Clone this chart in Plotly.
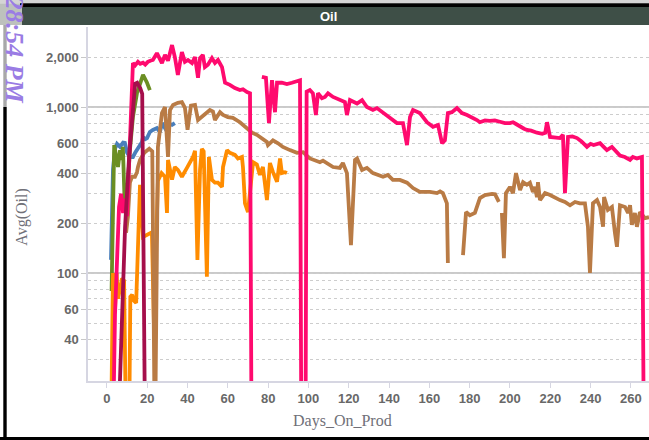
import plotly.graph_objects as go
import math

# ---------------- data ----------------
blue_days = [2, 3, 4, 5, 6.5, 8, 8.9, 10, 11.4, 12.9, 14, 15.4, 17.4, 17.9, 19, 19.9, 21.3, 22.8, 24.8, 26.3, 27.3, 28.8, 30.3, 32.3, 33.7]
blue_vals = [120, 420, 560, 600, 575, 610, 607, 530, 500, 500, 530, 565, 615, 660, 640, 650, 707, 727, 747, 707, 800, 747, 800, 780, 800]

green_days = [2.3, 3.6, 5.5, 6.5, 7.4, 7.9, 8.9, 9.6, 11.4, 12.9, 14.9, 16.4, 17.9, 19.9, 21.3]
green_vals = [78, 590, 435, 550, 480, 575, 240, 245, 550, 870, 1210, 1400, 1560, 1400, 1265]

crimson_days = [5.5, 9, 11, 13, 14, 15, 16.5, 17.5, 19]
crimson_vals = [10, 190, 500, 1000, 1380, 1400, 1300, 1200, 8]

orange_days = [2, 3, 4, 4.8, 5.5, 6.5, 7.5, 8.5, 9.5, 11, 11.6, 12.5, 13.4, 14.5, 16.4, 17.9, 20.3, 22.3, 23.3,
               25.3, 27.1, 28.8, 29.8, 30.3, 32.3, 33.7, 35.2, 37.2, 39.7, 41.2, 42.7, 43.7, 44.9, 46.2, 47.1, 48,
               49.6, 50.6, 52.1, 53.6, 55.1, 57.1, 57.6, 59.6, 61, 63.5, 65, 67, 67.5, 68.5, 70, 72.5, 74.4, 75.9,
               77.4, 79.4, 80.9, 82.4, 84.4, 85.9, 86.8, 88.3, 89.3]
orange_vals = [10, 100, 60, 100, 70, 80, 93, 90, 10, 10, 72, 74, 68, 66, 340, 165, 172, 176, 50,
               360, 400, 380, 230, 480, 365, 435, 418, 380, 430, 465, 500, 545, 120, 420, 560, 540,
               95, 500, 364, 350, 350, 330, 435, 550, 530, 515, 490, 500, 435, 263, 233, 465, 450, 390,
               435, 275, 460, 405, 355, 490, 400, 405, 400]

brown_days = [9.5, 10.4, 11.4, 12.4, 13.9, 14.9, 15.4, 16.4, 18.5, 21, 22.5, 23.8, 25.3, 26.3, 27.3, 28.8, 30.3,
              31.3, 32.8, 35.2, 37.2, 38.7, 40, 41.7, 43.7, 45.2, 47.1, 49.6, 51.1, 52.6, 53.6, 56.1, 57.6, 60,
              62.5, 66, 67.5, 69.5, 72, 74.4, 76.9, 79.4, 79.9, 82.4, 84.9, 87.3, 90.8, 94.3, 97.3, 100.7, 105.7,
              107.2, 112.2, 115.6, 117.1, 119.1, 121.1, 123.1, 124.1, 126.6, 129, 132, 137, 139.4, 141.9, 145.4,
              148.9, 151.9, 155.3, 160.3, 163.8, 165.3, 166.7, 168.7, 169.2, 172, 176.7, 178.2, 180.1, 182.6,
              185.1, 187.6, 191.1, 192.6, 194.5, 195.2, 196, 197, 198, 200, 201.5, 203, 205, 206.5, 208.4, 209.9,
              211.4, 212.4, 213.4, 213.9, 214.9, 217.4, 219.9, 222.3, 224.8, 227.3, 229.8, 232.3, 234.7, 237.2,
              238.7, 239.7, 241.2, 243.2, 244.7, 246.2, 246.7, 248.6, 250.6, 252.1, 253.1, 254.6, 257.1, 258.6,
              259.6, 260.5, 262, 263, 264.5, 267, 269]
brown_vals = [175, 218, 350, 380, 380, 405, 435, 480, 530, 560, 540, 8, 575, 700, 920, 1000, 500,
              960, 1030, 1060, 1070, 990, 730, 1020, 1030, 835, 870, 930, 960, 940, 835, 930, 895, 870,
              860, 810, 780, 750, 700, 680, 650, 615, 590, 630, 605, 575, 550, 530, 535, 490, 465,
              475, 435, 430, 460, 400, 147, 480, 490, 418, 430, 400, 380, 390, 364, 364,
              350, 325, 308, 308, 303, 310, 303, 263, 115, None, 128, 233, 223, 230,
              283, 295, 300, 298, 268, None, 230, 123, 303, 330, 303, 400, 316, 353, 340, 350,
              308, 330, 287, 353, 275, 303, 295, 283, 275, 268, 256, 268, 263, 263,
              190, 100, 263, 275, 250, 190, 287, 240, 250, 174, 144, 256, 250, 230,
              256, 195, 230, 190, 233, 214, 217]

pink_days = [3, 4, 6, 7, 8, 9, 10, 11, 12, 12.9, 14, 15.4, 16.5, 17.9, 19, 20.3, 21.5, 22.8, 24.8, 26.3, 27.3,
             28.8, 30.3, 32.3, 33.7, 35.2, 37.2, 38.7, 40.2, 42.2, 43.7, 45.2, 46.2, 47.6, 48.6, 50.1, 52.1,
             53.6, 55.1, 57.1, 58.6, 61, 63.5, 66, 67.5, 69.5, 71, 71.8, 74,
             76.9, 78.9, 80.4, 81.9, 83.4, 84.4, 86.8, 89.3, 91.8, 94.3, 95.8, 96.5, 98.5,
             99.1, 100.7, 102.2, 103.7, 104.7, 106.7, 108.2, 109.7, 112.2, 115.6, 118.1, 119.1, 120.6, 124.1,
             126.6, 129, 132, 134, 137, 140.4, 143.9, 146.9, 148.9, 150.4, 151.9, 155.3, 158.8, 161.8, 164.3,
             166.3, 167.7, 169.2, 171.2, 173.7, 176.2, 178.7, 181.1, 183.6, 185.1, 187.6, 190, 192.5, 195,
             197.5, 200, 201.5, 203, 205, 207, 208.4, 210.5, 213.4, 216, 217.5, 218.4, 219.9, 222, 224.8,
             226.3, 227.3, 228.8, 231, 233.3, 235.5, 238.2, 240, 241.5, 243, 244.7, 246.5, 248.1, 250.6,
             252.5, 254.6, 257, 259.6, 261, 263, 265.5, 266.5]
pink_vals = [10, 56, 250, 300, 230, 280, 220, 430, 870, 1840, 1780, 1870, 1820, 1850, 1800, 1870, 1900, 1920, 2110, 1970, 1840,
             2060, 1900, 2360, 2000, 1560, 2140, 1870, 1920, 1840, 2000, 1500, 1970, 2060, 1740, 1800, 1970,
             1840, 1920, 1740, 1400, 1360, 1300, 1265, 1280, 1230, 1210, 8, None,
             1520, 1500, 800, 1450, 930, 1400, 1400, 1375, 1400, 1420, 1450, 8, 8,
             1236, 1265, 1210, 895, 1210, 1130, 1150, 1210, 1150, 1100, 1070, 895, 1100, 1050,
             1100, 1000, 960, 985, 920, 860, 800, 800, 590, 870, 960, 920, 810, 760, 780,
             605, 630, 920, 930, 985, 920, 895, 870, 835, 810, 830, 825, 830, 815,
             800, 800, 810, 790, 760, 740, 727, 720, 700, 690, 700, 810, 660, 655, 650,
             680, 303, 660, 665, 650, 620, 575, 600, 590, 600, 605, 575, 550, 575,
             540, 510, 500, 480, 500, 490, 500, 8]

x_ticks = [0, 20, 40, 60, 80, 100, 120, 140, 160, 180, 200, 220, 240, 260]
y_ticks = [40, 60, 100, 200, 400, 600, 1000, 2000]
y_ticktext = ["40", "60", "100", "200", "400", "600", "1,000", "2,000"]
y_minor = [30, 50, 70, 80, 90, 300, 500, 700, 800, 900]
y_solid = [100, 1000]

series = [
    (blue_days, blue_vals, "#4a7fbc"),
    (green_days, green_vals, "#6b8e23"),
    (orange_days, orange_vals, "#ff8c00"),
    (brown_days, brown_vals, "#b97b45"),
    (pink_days, pink_vals, "#ff0a6e"),
    (crimson_days, crimson_vals, "#a50f4b"),
]

# ---------------- layout geometry ----------------
W, H = 649, 440
PL, PR, PT, PB = 88, 649, 27, 381


def fx(px):
    return (px - PL) / (PR - PL)


def fy(py):
    return (PB - py) / (PB - PT)


fig = go.Figure()
for d, v, c in series:
    fig.add_trace(go.Scatter(x=d, y=v, mode="lines", line=dict(color=c, width=3.8),
                             showlegend=False, hoverinfo="skip", connectgaps=False))

tickfont = dict(family="Liberation Sans", size=13, color="#686868", weight="bold")
grid_c = "#cdcdcd"

shapes = []
for yv in y_solid:
    shapes.append(dict(type="line", xref="paper", x0=0, x1=1, yref="y", y0=yv, y1=yv,
                       line=dict(color="#b8b8b8", width=1.4), layer="between"))


def rect(x0, y0, x1, y1, color):
    return dict(type="rect", xref="paper", yref="paper", x0=fx(x0), x1=fx(x1), y0=fy(y1), y1=fy(y0),
                fillcolor=color, line=dict(width=0), layer="above")


shapes += [
    rect(0, 0, 649, 3.3, "#d4d4d4"),
    rect(0, 3.3, 22, 25, "#bdc1bd"),
    rect(20, 3.3, 649, 7, "#000000"),
    rect(22, 7, 649, 25, "#3e4f47"),
    rect(3.3, 25, 6.7, 107, "#a8a8a8"),
    rect(3.3, 107, 6.7, 440, "#000000"),
    rect(0, 437, 649, 440, "#000000"),
]

annotations = [
    dict(text="<b>Oil</b>", xref="paper", yref="paper", x=fx(328), y=fy(16), showarrow=False,
         font=dict(family="Liberation Sans", size=13, color="#ffffff"), xanchor="center", yanchor="middle"),
    dict(text="Avg(Oil)", xref="paper", yref="paper", x=fx(21.7), y=fy(217), showarrow=False, textangle=-90,
         font=dict(family="Liberation Serif", size=16, color="#707078"), xanchor="center", yanchor="middle"),
    dict(text="Days_On_Prod", xref="paper", yref="paper", x=fx(342), y=fy(421), showarrow=False,
         font=dict(family="Liberation Serif", size=16, color="#707078"), xanchor="center", yanchor="middle"),
    dict(text="<b>28:54 PM</b>", xref="paper", yref="paper", x=fx(-1), y=fy(104), showarrow=False, textangle=90,
         font=dict(family="Liberation Serif", size=26, color="#9a7ce4", style="italic"),
         xanchor="left", yanchor="bottom", borderpad=0),
]

fig.update_layout(
    width=W, height=H,
    margin=dict(l=PL, r=W - PR, t=PT, b=H - PB),
    paper_bgcolor="#ffffff", plot_bgcolor="#ffffff",
    showlegend=False,
    xaxis=dict(range=[-9.4, 269], tickmode="array", tickvals=x_ticks, showgrid=False, zeroline=False,
               showline=True, linecolor="#d6d6e2", linewidth=1.5, ticks="outside", ticklen=5,
               tickcolor="#d6d6e2", tickfont=tickfont),
    yaxis=dict(type="log", range=[math.log10(22.37), 3.4819], tickmode="array", tickvals=y_ticks,
               ticktext=y_ticktext, showgrid=True, gridcolor=grid_c, griddash="dot", gridwidth=1,
               zeroline=False, showline=True, linecolor="#d6d6e2", linewidth=1.5, ticks="outside",
               ticklen=5, tickcolor="#c8c8c8", tickfont=tickfont,
               minor=dict(tickvals=y_minor, showgrid=True, gridcolor=grid_c, griddash="dot",
                          gridwidth=1, ticks="")),
    shapes=shapes,
    annotations=annotations,
)

fig.write_html("out.html", config={"displayModeBar": False},
               post_script="document.body.style.margin='0';")
